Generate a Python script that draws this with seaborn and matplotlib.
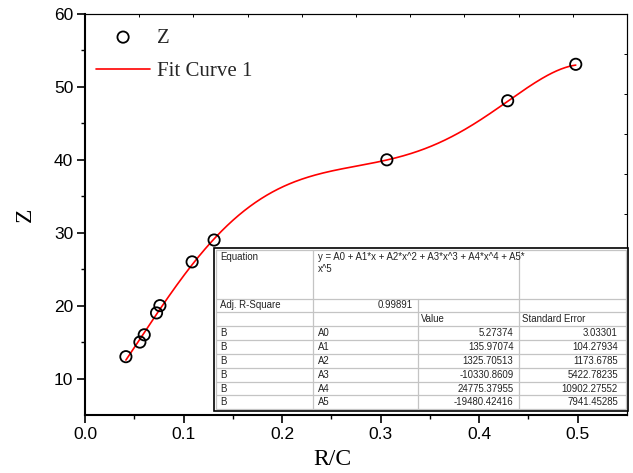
import numpy as np
import pandas as pd
import matplotlib
matplotlib.use("Agg")
import matplotlib.pyplot as plt
import seaborn as sns
from matplotlib.patches import Rectangle

# ---------------- data ----------------
rc_values = [0.0415, 0.0557, 0.0601, 0.0726, 0.0760, 0.1087, 0.1310, 0.3063, 0.4289, 0.4980]
z_values = [13.0, 15.0, 16.0, 19.0, 20.0, 26.0, 29.0, 40.0, 48.1, 53.1]

eq_text = "y = A0 + A1*x + A2*x^2 + A3*x^3 + A4*x^4 + A5*\nx^5"
adj_r2 = "0.99891"
param_names = ["A0", "A1", "A2", "A3", "A4", "A5"]
param_values = ["5.27374", "135.97074", "1325.70513", "-10330.8609", "24775.37955", "-19480.42416"]
std_errors = ["3.03301", "104.27934", "1173.6785", "5422.78235", "10902.27552", "7941.45285"]

x_ticks = [0.0, 0.1, 0.2, 0.3, 0.4, 0.5]
y_ticks = [10, 20, 30, 40, 50, 60]

# ---------------- style ----------------
sns.set_theme(style="ticks")
plt.rcParams["font.family"] = ["Liberation Sans", "DejaVu Sans"]
SERIF = ["Liberation Serif", "DejaVu Serif"]

W, H = 633, 473
fig = plt.figure(figsize=(W / 100, H / 100), dpi=100)
ax = fig.add_axes([85 / W, 58 / H, 542 / W, 401 / H])

df = pd.DataFrame({"R/C": rc_values, "Z": z_values})

# fit curve from the table's polynomial coefficients
coefs = [float(v) for v in param_values]
xs = np.linspace(min(rc_values), max(rc_values), 400)
ys = np.polynomial.polynomial.polyval(xs, coefs)
fit = pd.DataFrame({"R/C": xs, "Z": ys})

sns.lineplot(data=fit, x="R/C", y="Z", ax=ax, color="red", lw=1.2,
             label="Fit Curve 1", zorder=2)
sns.scatterplot(data=df, x="R/C", y="Z", ax=ax, marker="o", s=66,
                facecolor="none", edgecolor="black", linewidth=1.3,
                label="Z", zorder=3)

ax.set_xlim(0, 0.55)
ax.set_ylim(5, 60)
ax.set_xticks(x_ticks)
ax.set_xticklabels([f"{v:.1f}" for v in x_ticks])
ax.set_xticks([0.05, 0.15, 0.25, 0.35, 0.45], minor=True)
ax.set_yticks(y_ticks)
ax.set_yticklabels([str(v) for v in y_ticks])
ax.set_yticks([15, 25, 35, 45, 55], minor=True)

ax.tick_params(which="major", direction="out", length=5.5, width=1.2,
               labelsize=12.5, pad=3, colors="black")
ax.tick_params(which="minor", direction="out", length=3, width=1.0,
               colors="black")
ax.tick_params(axis="x", which="both", bottom=True, top=False)
ax.tick_params(axis="y", which="both", left=True, right=False)

for s in ["left", "bottom"]:
    ax.spines[s].set_linewidth(1.5)
    ax.spines[s].set_color("black")
for s in ["top", "right"]:
    ax.spines[s].set_visible(True)
    ax.spines[s].set_linewidth(0.8)
    ax.spines[s].set_color("black")

# top / right inward ticks
secx = ax.secondary_xaxis("top")
secx.set_xticks(np.linspace(0, 0.55, 11))
secx.tick_params(direction="in", length=2.5, width=0.7, labeltop=False, colors="black")
secx.spines["top"].set_linewidth(0.8)
secy = ax.secondary_yaxis("right")
secy.set_yticks(np.linspace(5, 60, 11))
secy.tick_params(direction="in", length=2.5, width=0.7, labelright=False, colors="black")
secy.spines["right"].set_linewidth(0.8)

ax.set_xlabel("R/C", fontsize=17, family=SERIF, color="black")
ax.set_ylabel("Z", fontsize=17, family=SERIF, color="black")
ax.xaxis.set_label_coords((332 - 85) / 542, -0.085)
ax.yaxis.set_label_coords((36 - 85) / 542, 0.5)

h, l = ax.get_legend_handles_labels()
order = [l.index("Z"), l.index("Fit Curve 1")]
ax.legend([h[i] for i in order], [l[i] for i in order],
          prop={"family": SERIF, "size": 15}, frameon=False,
          loc="upper left", bbox_to_anchor=(96 / W, 1 - 28 / H),
          bbox_transform=fig.transFigure, borderpad=0, borderaxespad=0,
          handlelength=2.6, handletextpad=0.35, labelspacing=0.68)

# ---------------- table overlay ----------------
tax = fig.add_axes([0, 0, 1, 1], zorder=5)
tax.set_xlim(0, W)
tax.set_ylim(H, 0)
tax.axis("off")
tax.patch.set_alpha(0)

cols = [215.5, 313, 418, 519, 625.5]
rh = 13.85
bottom = 409.3
rows_bottom_up = [bottom - rh * k for k in range(9)]  # boundaries
row_b = sorted(rows_bottom_up)  # from top: 298.5 ... 409.3
top = 249.5
gray = "#c4c4c4"
tfs = 6.9
tcol = "#222222"

tax.add_patch(Rectangle((214, 248), 627.5 - 214, 410.5 - 248,
                        facecolor="white", edgecolor="none", zorder=1))
# horizontal lines
for yb in [top] + row_b:
    tax.plot([cols[0], cols[-1]], [yb, yb], color=gray, lw=0.9, zorder=2)
# vertical lines
for i, xc in enumerate(cols):
    y0 = top if i != 2 else row_b[0]
    tax.plot([xc, xc], [y0, bottom], color=gray, lw=0.9, zorder=2)
# outer black frame
tax.add_patch(Rectangle((214, 248), 627.5 - 214, 410.5 - 248,
                        facecolor="none", edgecolor="black", lw=1.2, zorder=3))

pad_l, pad_r = 5, 5.5
# equation row
tax.text(cols[0] + pad_l, top + 2, "Equation", fontsize=tfs, color=tcol,
         va="top", ha="left", zorder=4)
tax.text(cols[1] + pad_l, top + 2, eq_text, fontsize=tfs, color=tcol,
         va="top", ha="left", zorder=4, linespacing=1.35)
# adj R^2 row
yc = (row_b[0] + row_b[1]) / 2
tax.text(cols[0] + pad_l, yc, "Adj. R-Square", fontsize=tfs, color=tcol,
         va="center", ha="left", zorder=4)
tax.text(cols[2] - pad_r, yc, adj_r2, fontsize=tfs, color=tcol,
         va="center", ha="right", zorder=4)
# header row
yc = (row_b[1] + row_b[2]) / 2
tax.text(cols[2] + 2.5, yc, "Value", fontsize=tfs, color=tcol,
         va="center", ha="left", zorder=4)
tax.text(cols[3] + 2.5, yc, "Standard Error", fontsize=tfs, color=tcol,
         va="center", ha="left", zorder=4)
# parameter rows
for k in range(6):
    yc = (row_b[2 + k] + row_b[3 + k]) / 2
    tax.text(cols[0] + pad_l, yc, "B", fontsize=tfs, color=tcol,
             va="center", ha="left", zorder=4)
    tax.text(cols[1] + pad_l, yc, param_names[k], fontsize=tfs, color=tcol,
             va="center", ha="left", zorder=4)
    tax.text(cols[3] - pad_r, yc, param_values[k], fontsize=tfs, color=tcol,
             va="center", ha="right", zorder=4)
    tax.text(cols[4] - 7.5, yc, std_errors[k], fontsize=tfs, color=tcol,
             va="center", ha="right", zorder=4)

fig.savefig("out.png", dpi=100)
